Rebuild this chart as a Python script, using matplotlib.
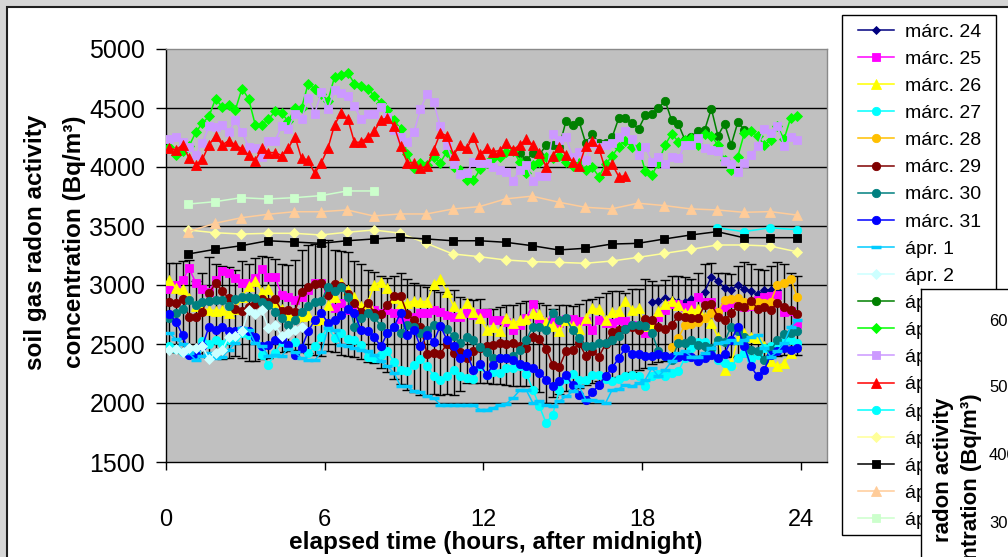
import numpy as np
import matplotlib
matplotlib.use("Agg")
import matplotlib.pyplot as plt
from matplotlib import font_manager
from matplotlib.patches import Rectangle


def font_available(name):
    try:
        font_manager.findfont(font_manager.FontProperties(family=name),
                              fallback_to_default=False)
        return True
    except ValueError:
        return False


NARROW = font_available("Liberation Sans Narrow")
plt.rcParams["font.family"] = ["Liberation Sans", "DejaVu Sans"]

# ---------------------------------------------------------------- data
# 15-minute readings (index 0..95) and hourly readings (index 0..23)
quarter_hours = np.arange(96) * 0.25 + 0.125
hourly = np.arange(24) + 0.85

marc24_start = 73
marc24 = [2853, 2864, 2890, 2870, 2860, 2856, 2880, 2900, 2943, 3070,
          3036, 2972, 2958, 3000, 2966, 2950, 2920, 2958, 2958, 2958]

marc25 = [2963, 3000, 3042, 3141, 3020, 2963, 2944, 3040, 3121, 3104, 3056, 3020,
          3020, 3060, 3132, 3070, 3070, 2915, 2901, 2873, 2901, 2960, 3014, 3014,
          2958, 2803, 2845, 2789, 2820, 2800, 2789, 2789, 2761, 2789, 2760, 2710,
          2727, 2727, 2766, 2761, 2789, 2775, 2746, 2727, 2727, 2761, 2746, 2761,
          2766, 2704, 2704, 2690, 2620, 2660, 2718, 2839, 2700, 2690, 2710, 2676,
          2710, 2710, 2698, 2698, 2620, 2704, 2680, 2676, 2704, 2698, 2662, 2642,
          2592, 2662, 2732, 2789, 2839, 2839, 2817, 2831, 2901, 2859, 2859, 2775,
          2817, 2845, 2851, 2817, 2822, 2873, 2901, 2907, 2915, 2775, 2783, 2670]

marc26 = [3042, 2972, 2963, 2887, 2820, 2800, 2789, 2783, 2789, 2766,
          2800, 2900, 2992, 3037, 2944, 2963, 2859, 2800, 2746, 2732,
          2740, 2746, 2704, 2710, 2831, 2901, 3014, 2958, 2901, 2823,
          2850, 3000, 3028, 2972, 2887, 2851, 2845, 2868, 2859, 2859,
          3008, 3048, 2944, 2823, 2766, 2851, 2775, 2718, 2620, 2648,
          2606, 2718, 2676, 2700, 2710, 2761, 2755, 2690, 2650, 2606,
          2700, 2650, 2625, 2718, 2803, 2794, 2704, 2775, 2783, 2868,
          2789, 2803, 2650, 2660, 2780, 2839, 2868, 2830, 2761, 2789,
          2795, 2730, 2676, 2560, 2282, 2338, 2540, 2592, 2563, 2550,
          2480, 2352, 2315, 2338, 2423, 2493]

marc27 = [2480, 2460, 2430, 2410, 2430, 2527, 2500, 2530, 2500, 2530,
          2560, 2590, 2580, 2540, 2408, 2324, 2423, 2521, 2479, 2521,
          2470, 2420, 2479, 2563, 2642, 2549, 2592, 2540, 2535, 2493,
          2394, 2380, 2410, 2437, 2344, 2276, 2268, 2324, 2370, 2310,
          2231, 2192, 2225, 2282, 2225, 2211, 2203, 2310, 2239, 2260,
          2254, 2296, 2300, 2310, 2250, 2113, 1972, 1831, 1901, 2113,
          2200, 2248, 2197, 2192, 2240, 2240, 2200, 2190, 2200, 2225,
          2239, 2230, 2141, 2230, 2248, 2225, 2254, 2268, 2380, 2465,
          2521, 2521, 2450, 2366, 2340, 2310, 2380, 2420, 2370, 2410,
          2465, 2480, 2500, 2521, 2535, 2510]

marc28_start = 76
marc28 = [2473, 2549, 2660, 2670, 2690, 2720, 2761, 2775, 2873, 2879,
          2887, 2860, 2830, 2859, 2850, 2860, 3000, 3014, 3048, 2901]

marc29 = [2859, 2845, 2879, 2727, 2732, 2775, 2930, 3014, 2949, 2887,
          2794, 2783, 2817, 2839, 2879, 2859, 2879, 2783, 2789, 2775,
          2944, 2980, 3008, 3020, 2915, 3008, 2992, 2920, 2845, 2775,
          2851, 2766, 2755, 2831, 2907, 2907, 2755, 2704, 2648, 2417,
          2423, 2417, 2500, 2423, 2430, 2380, 2440, 2465, 2480, 2493,
          2507, 2500, 2507, 2480, 2470, 2563, 2541, 2460, 2324, 2304,
          2437, 2445, 2507, 2400, 2440, 2394, 2500, 2600, 2620, 2630,
          2640, 2620, 2710, 2700, 2640, 2625, 2662, 2738, 2725, 2720,
          2718, 2831, 2839, 2732, 2700, 2761, 2823, 2811, 2868, 2800,
          2810, 2789, 2845, 2810, 2790, 2755]

marc30 = [2718, 2766, 2794, 2873, 2831, 2859, 2868, 2873, 2873, 2823,
          2879, 2896, 2901, 2887, 2860, 2831, 2775, 2718, 2662, 2704,
          2775, 2820, 2859, 2868, 2980, 2952, 2980, 2900, 2648, 2720,
          2766, 2727, 2654, 2597, 2640, 2597, 2662, 2642, 2592, 2620,
          2662, 2650, 2625, 2569, 2507, 2560, 2530, 2473, 2428, 2380,
          2380, 2380, 2400, 2451, 2535, 2648, 2640, 2620, 2761, 2704,
          2718, 2620, 2549, 2479, 2479, 2507, 2507, 2535, 2569, 2625,
          2662, 2662, 2650, 2597, 2437, 2400, 2366, 2507, 2510, 2530,
          2493, 2480, 2470, 2535, 2520, 2648, 2606, 2560, 2451, 2437,
          2366, 2450, 2530, 2586, 2592, 2606]

marc31 = [2755, 2690, 2577, 2408, 2410, 2479, 2648, 2620, 2642, 2606,
          2610, 2620, 2606, 2558, 2479, 2490, 2535, 2540, 2493, 2408,
          2465, 2606, 2704, 2761, 2680, 2700, 2746, 2794, 2760, 2620,
          2610, 2558, 2479, 2592, 2648, 2766, 2577, 2620, 2479, 2580,
          2520, 2654, 2535, 2480, 2380, 2420, 2282, 2330, 2239, 2324,
          2380, 2380, 2366, 2330, 2316, 2300, 2254, 2197, 2141, 2183,
          2239, 2150, 2070, 2028, 2090, 2155, 2225, 2300, 2380, 2465,
          2417, 2417, 2400, 2400, 2417, 2400, 2390, 2390, 2400, 2394,
          2352, 2380, 2408, 2380, 2417, 2535, 2642, 2479, 2310, 2225,
          2282, 2408, 2440, 2465, 2450, 2465]

apr1 = [2592, 2541, 2500, 2420, 2366, 2400, 2420, 2380, 2390, 2450,
        2507, 2634, 2620, 2507, 2480, 2400, 2410, 2400, 2460, 2430,
        2380, 2361, 2361, 2430, 2634, 2620, 2490, 2479, 2465, 2451,
        2437, 2410, 2352, 2310, 2254, 2141, 2145, 2099, 2090, 2060,
        2042, 1986, 1986, 1980, 1986, 1980, 1980, 1944, 1944, 1958,
        1986, 1995, 2042, 2107, 2110, 2000, 2014, 1980, 1975, 2014,
        2056, 2098, 2141, 2028, 2028, 2014, 2000, 2113, 2120, 2155,
        2141, 2169, 2197, 2296, 2225, 2282, 2352, 2423, 2437, 2394,
        2394, 2423, 2465, 2507, 2521, 2535, 2507, 2535, 2563, 2577,
        2465, 2394, 2437, 2507, 2648, 2700]

apr2 = [2451, 2460, 2430, 2465, 2465, 2479, 2372, 2420, 2451, 2560,
        2570, 2606, 2789, 2755, 2789, 2634, 2662, 2570, 2592, 2620, 2648]

apr3_start = 53
apr3 = [4116, 4060, 4116, 4102, 4187, 4187, 4173, 4386, 4358, 4386,
        4202, 4278, 4202, 4202, 4253, 4415, 4415, 4372, 4324, 4437,
        4449, 4500, 4562, 4395, 4366, 4230, 4258, 4301, 4315, 4494,
        4264, 4366, 4187, 4378, 4315]

apr4 = [4168, 4102, 4139, 4179, 4293, 4372, 4429, 4579, 4508, 4528,
        4486, 4665, 4579, 4358, 4358, 4406, 4471, 4457, 4386, 4500,
        4500, 4704, 4662, 4620, 4562, 4764, 4778, 4798, 4707, 4684,
        4662, 4605, 4540, 4480, 4400, 4321, 4111, 3989, 4031, 4017,
        4088, 4037, 4131, 4000, 3974, 3889, 3889, 3980, 4031, 4074,
        4088, 4125, 4139, 4045, 3952, 4017, 4045, 4088, 4074, 4094,
        4045, 4009, 4031, 3974, 3997, 3918, 4023, 4094, 4173, 4222,
        4167, 4167, 3966, 3929, 4037, 4187, 4281, 4216, 4230, 4244,
        4187, 4281, 4264, 4187, 4060, 3974, 4088, 4287, 4301, 4264,
        4187, 4230, 4344, 4236, 4415, 4435]

apr5 = [4236, 4258, 4215, 4173, 4102, 4202, 4344, 4338, 4358, 4293,
        4395, 4293, 4173, 4159, 4082, 4222, 4222, 4344, 4321, 4452,
        4406, 4585, 4452, 4633, 4491, 4650, 4628, 4599, 4514, 4406,
        4452, 4452, 4508, 4423, 4315, 4258, 4216, 4293, 4491, 4622,
        4548, 4344, 4187, 4026, 3940, 3952, 4045, 4037, 4037, 3997,
        3974, 3960, 3884, 3974, 4017, 3884, 3923, 3923, 4281, 4230,
        4253, 4088, 4131, 4060, 4207, 4173, 4187, 4207, 4258, 4301,
        4236, 4102, 4173, 4045, 4088, 4026, 4088, 4074, 4187, 4187,
        4244, 4159, 4145, 4139, 4054, 4026, 3960, 4031, 4102, 4179,
        4321, 4287, 4344, 4179, 4258, 4230]

apr6 = [4159, 4145, 4187, 4074, 4017, 4065, 4187, 4264, 4187, 4224,
        4187, 4153, 4102, 4054, 4159, 4122, 4122, 4097, 4159, 4258,
        4074, 4060, 3946, 4037, 4159, 4358, 4457, 4409, 4210, 4210,
        4253, 4301, 4400, 4415, 4349, 4179, 4037, 4037, 3989, 4009,
        4145, 4287, 4264, 4102, 4187, 4159, 4258, 4108, 4159, 4131,
        4139, 4202, 4145, 4187, 4236, 4187, 4122, 4003, 4094, 4168,
        4102, 4045, 4009, 4179, 4224, 4159, 3974, 4023, 3918, 3926]

apr7_start = 20
apr7 = [3485, 3452, 3485, 3469]
apr8 = [3466, 3443, 3432, 3438, 3438, 3424, 3447, 3466, 3440, 3353, 3263, 3240,
        3212, 3198, 3192, 3184, 3203, 3234, 3268, 3302, 3339, 3339, 3330, 3282]
apr9 = [3263, 3302, 3333, 3375, 3364, 3353, 3375, 3390, 3404, 3390, 3375, 3375,
        3362, 3333, 3297, 3311, 3347, 3353, 3390, 3424, 3452, 3401, 3401, 3401]
apr10 = [3452, 3523, 3570, 3599, 3621, 3621, 3636, 3585, 3602, 3602, 3644, 3664,
         3730, 3753, 3702, 3659, 3645, 3693, 3673, 3645, 3636, 3616, 3622, 3593]
apr11 = [3686, 3706, 3740, 3729, 3740, 3757, 3797, 3797]

# upper / lower ends of the error bars on the 15-minute grid
err_hi = [3190, 3190, 3205, 3215, 3030, 3100, 3240, 3180,
          3160, 3150, 3130, 3200, 3180, 3230, 3250, 3240,
          3220, 3180, 3170, 3210, 3300, 3340, 3350, 3330,
          3380, 3300, 3290, 3280, 3200, 3180, 3130, 3110,
          3080, 3060, 3080, 3100, 3050, 3020, 3000, 2980,
          2960, 2940, 2920, 2960, 2900, 2880, 2870, 2880,
          2800, 2794, 2810, 2831, 2830, 2850, 2868, 2868,
          2850, 2830, 2794, 2830, 2830, 2820, 2840, 2870,
          2880, 2900, 2930, 2952, 2950, 2935, 2970, 2963,
          3048, 3030, 3000, 3040, 3076, 3080, 3070, 3050,
          3100, 3177, 3183, 3100, 3100, 3090, 3161, 3197,
          3180, 3132, 3127, 3160, 3192, 3180, 3100, 3076]
err_lo = [2430, 2430, 2425, 2420, 2420, 2400, 2380, 2380,
          2370, 2380, 2400, 2380, 2360, 2360, 2370, 2380,
          2400, 2430, 2440, 2450, 2430, 2420, 2410, 2400,
          2440, 2430, 2410, 2400, 2390, 2370, 2350, 2340,
          2300, 2260, 2200, 2160, 2113, 2090, 2070, 2070,
          2080, 2070, 2075, 2070, 2100, 2169, 2169, 2169,
          2169, 2160, 2160, 2150, 2146, 2146, 2140, 2120,
          2090, 2000, 2050, 2080, 2100, 2110, 2130, 2150,
          2170, 2190, 2200, 2210, 2220, 2230, 2260, 2280,
          2300, 2330, 2345, 2360, 2370, 2375, 2380, 2390,
          2400, 2410, 2400, 2400, 2395, 2390, 2395, 2400,
          2400, 2400, 2395, 2400, 2400, 2405, 2408, 2408]

y_ticks = [1500, 2000, 2500, 3000, 3500, 4000, 4500, 5000]
x_ticks = [0, 6, 12, 18, 24]

# ---------------------------------------------------------------- layout
W, H = 1008, 557


def fx(x):
    return x / W


def fy(y):
    return 1 - y / H


fig = plt.figure(figsize=(W / 100, H / 100), dpi=100, facecolor="#d6d6d6")

# white chart frame and legend box
fig.add_artist(Rectangle((fx(7), -0.2), 1.3, fy(7) + 0.2, transform=fig.transFigure,
                         facecolor="white", edgecolor="#202020", lw=1.5, zorder=-2))
fig.add_artist(Rectangle((fx(842), fy(535)), (996 - 842) / W, (535 - 15) / H,
                         transform=fig.transFigure, facecolor="white",
                         edgecolor="black", lw=1, zorder=-1))

ax = fig.add_axes([fx(166), fy(462), (827 - 166) / W, (462 - 49) / H])
ax.set_facecolor("#c0c0c0")
ax.set_xlim(0, 25)
ax.set_ylim(1500, 5000)
for s in ("top", "right"):
    ax.spines[s].set_color("#8a8a8a")
    ax.spines[s].set_linewidth(1)
for s in ("left", "bottom"):
    ax.spines[s].set_color("black")
    ax.spines[s].set_linewidth(1)
for v in y_ticks[1:-1]:
    ax.axhline(v, color="black", lw=1, zorder=1)

ax.set_yticks(y_ticks)
ax.tick_params(axis="y", direction="out", length=7, width=1, pad=8, labelsize=18)
narrow_family = ["Liberation Sans Narrow", "Liberation Sans"] if NARROW else ["Liberation Sans"]
ax.set_xticks(x_ticks, labels=[str(v) for v in x_ticks],
              fontsize=20 if NARROW else 17, family=narrow_family)
ax.tick_params(axis="x", direction="out", length=6, width=1, pad=28)

# error bars
hi = np.array(err_hi, float)
lo = np.array(err_lo, float)
mid = (hi + lo) / 2
ax.errorbar(quarter_hours, mid, yerr=[mid - lo, hi - mid], fmt="none",
            ecolor="black", elinewidth=1, capsize=3.5, capthick=1, zorder=2)


def seg(t, start, vals):
    return t[start:start + len(vals)], vals


series = [
    ("márc. 24", *seg(quarter_hours, marc24_start, marc24), "#000080", "D", 4.5),
    ("márc. 25", *seg(quarter_hours, 0, marc25), "#ff00ff", "s", 6),
    ("márc. 26", *seg(quarter_hours, 0, marc26), "#ffff00", "^", 7),
    ("márc. 27", *seg(quarter_hours, 0, marc27), "#00ffff", "o", 6),
    ("márc. 28", *seg(quarter_hours, marc28_start, marc28), "#ffc000", "o", 6),
    ("márc. 29", *seg(quarter_hours, 0, marc29), "#800000", "o", 6),
    ("márc. 30", *seg(quarter_hours, 0, marc30), "#008080", "o", 6),
    ("márc. 31", *seg(quarter_hours, 0, marc31), "#0000ff", "o", 6),
    ("ápr. 1", *seg(quarter_hours, 0, apr1), "#00ccff", "_", 6.5),
    ("ápr. 2", *seg(quarter_hours, 0, apr2), "#ccffff", "D", 5.5),
    ("ápr. 3", *seg(quarter_hours, apr3_start, apr3), "#008000", "o", 6),
    ("ápr. 4", *seg(quarter_hours, 0, apr4), "#00ff00", "D", 5.5),
    ("ápr. 5", *seg(quarter_hours, 0, apr5), "#cc99ff", "s", 6),
    ("ápr. 6", *seg(quarter_hours, 0, apr6), "#ff0000", "^", 7),
    ("ápr. 7", *seg(hourly, apr7_start, apr7), "#00ffff", "o", 6),
    ("ápr. 8", *seg(hourly, 0, apr8), "#ffff99", "D", 5.5),
    ("ápr. 9", *seg(hourly, 0, apr9), "#000000", "s", 6),
    ("ápr. 10", *seg(hourly, 0, apr10), "#ffcc99", "^", 7),
    ("ápr. 11", *seg(hourly, 0, apr11), "#ccffcc", "s", 6),
]

handles = []
for k, (label, xs, ys, color, marker, ms) in enumerate(series):
    mew = 2.5 if marker == "_" else 0.6
    (ln,) = ax.plot(xs, ys, color=color, lw=1.1, marker=marker, ms=ms,
                    mfc=color, mec=color, mew=mew, label=label, zorder=3 + k * 0.01)
    handles.append(ln)

fs_leg = 14
fs_px = fs_leg * 100 / 72
ax.legend(handles=handles, loc="upper left",
          bbox_to_anchor=(fx(858), fy(23)), bbox_transform=fig.transFigure,
          frameon=False, borderpad=0, borderaxespad=0, fontsize=fs_leg,
          handlelength=36 / fs_px, handletextpad=11 / fs_px, labelspacing=0.49)

# axis titles
fig.text(fx(36), fy(242), "soil gas radon activity", rotation=90, ha="center",
         va="center", fontsize=17.5, fontweight="bold")
fig.text(fx(74), fy(242), "concentration (Bq/m³)", rotation=90, ha="center",
         va="center", fontsize=17.5, fontweight="bold")
fig.text(fx(496), fy(543), "elapsed time (hours, after midnight)", ha="center",
         va="center", fontsize=22 if NARROW else 17.5, fontweight="bold",
         family=narrow_family)

# neighbouring chart overlapping the corner
ax2 = fig.add_axes([fx(921), -0.2, 0.3, fy(289) + 0.2])
ax2.set_facecolor("white")
ax2.set_xticks([])
ax2.set_yticks([])
for s in ax2.spines.values():
    s.set_color("black")
    s.set_linewidth(1)
fig.text(fx(943), fy(398), "radon activity", rotation=90, ha="center",
         va="top", fontsize=16, fontweight="bold")
fig.text(fx(972), fy(393), "concentration (Bq/m³)", rotation=90, ha="center",
         va="top", fontsize=16, fontweight="bold")
for lab, yy in (("6000", 322), ("5000", 388), ("4000", 456), ("3000", 523)):
    fig.text(fx(989), fy(yy), lab, ha="left", va="center", fontsize=12)

fig.savefig("out.png", dpi=100, facecolor=fig.get_facecolor())
